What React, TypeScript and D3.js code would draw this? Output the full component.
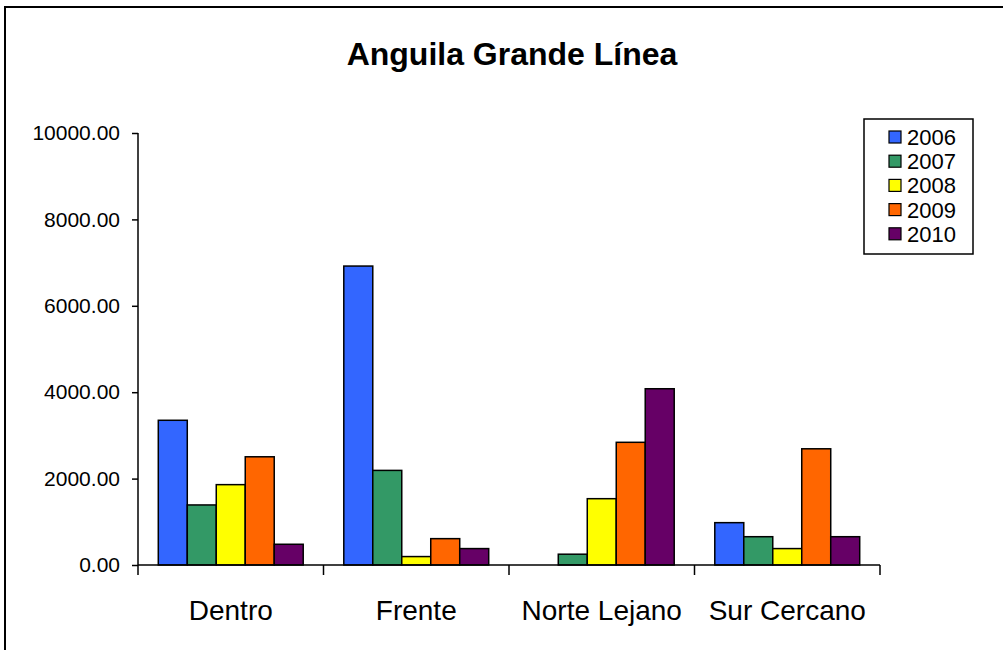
import { useEffect, useRef } from 'react';
import * as d3 from 'd3';

const categories = ['Dentro', 'Frente', 'Norte Lejano', 'Sur Cercano'];
const years = ['2006', '2007', '2008', '2009', '2010'];
const colors = ['#3366FF', '#339966', '#FFFF00', '#FF6600', '#660066'];

// values per year, one entry per category
const v2006 = [3350, 6920, 0, 980];
const v2007 = [1390, 2190, 250, 655];
const v2008 = [1860, 195, 1535, 380];
const v2009 = [2505, 610, 2840, 2690];
const v2010 = [480, 380, 4080, 655];

const yTicks = [0, 2000, 4000, 6000, 8000, 10000];

export default function App() {
  const svgRef = useRef<SVGSVGElement>(null);
  const width = 1003;
  const height = 650;

  useEffect(() => {
    if (!svgRef.current) return;
    const svg = d3.select(svgRef.current);
    svg.selectAll('*').remove();

    const series = [v2006, v2007, v2008, v2009, v2010];
    const font = 'Arial, "Liberation Sans", sans-serif';

    // outer frame
    svg
      .append('rect')
      .attr('x', 5)
      .attr('y', 7)
      .attr('width', width)
      .attr('height', height)
      .attr('fill', '#fff')
      .attr('stroke', '#000')
      .attr('stroke-width', 2);

    // title
    svg
      .append('text')
      .attr('x', 512)
      .attr('y', 65)
      .attr('text-anchor', 'middle')
      .attr('font-family', font)
      .attr('font-weight', 'bold')
      .attr('font-size', '32px')
      .text('Anguila Grande Línea');

    const left = 138;
    const right = 880;
    const top = 133;
    const bottom = 565;

    const x = d3.scaleBand().domain(categories).range([left, right]).padding(0);
    const xs = d3
      .scaleBand()
      .domain(years)
      .range([0, x.bandwidth()])
      .paddingInner(0)
      .paddingOuter(0.7);
    const y = d3.scaleLinear().domain([0, 10000]).range([bottom, top]);

    // bars
    years.forEach((yr, i) => {
      svg
        .append('g')
        .selectAll('rect')
        .data(categories.map((c, j) => ({ c, v: series[i][j] })).filter((d) => d.v > 0))
        .enter()
        .append('rect')
        .attr('x', (d) => (x(d.c) || 0) + (xs(yr) || 0))
        .attr('y', (d) => y(d.v))
        .attr('width', xs.bandwidth())
        .attr('height', (d) => bottom - y(d.v))
        .attr('fill', colors[i])
        .attr('stroke', '#000')
        .attr('stroke-width', 1.5);
    });

    // y axis
    const yAxis = svg
      .append('g')
      .attr('transform', `translate(${left},0)`)
      .call(
        d3
          .axisLeft(y)
          .tickValues(yTicks)
          .tickFormat((d) => d3.format('.2f')(d as number))
          .tickSize(6)
          .tickPadding(12)
      );
    yAxis.select('.domain').attr('stroke-width', 1.5).attr('d', `M0,${top}V${bottom}`);
    yAxis.selectAll('line').attr('stroke-width', 1.5);
    yAxis.selectAll('text').attr('font-family', font).attr('font-size', '21px').attr('fill', '#000');

    // x axis
    const xAxis = svg
      .append('g')
      .attr('transform', `translate(0,${bottom})`)
      .call(d3.axisBottom(x).tickSize(0).tickPadding(35));
    xAxis.select('.domain').attr('stroke-width', 1.5).attr('d', `M${left},0H${right}`);
    xAxis.selectAll('text').attr('font-family', font).attr('font-size', '28px').attr('fill', '#000');
    // category separator ticks
    xAxis
      .selectAll('line.sep')
      .data([...categories.map((c) => x(c) || 0), right])
      .enter()
      .append('line')
      .attr('class', 'sep')
      .attr('x1', (d) => d)
      .attr('x2', (d) => d)
      .attr('y1', 0)
      .attr('y2', 10)
      .attr('stroke', '#000')
      .attr('stroke-width', 1.5);

    // legend
    const lg = svg.append('g').attr('transform', 'translate(864,119)');
    lg.append('rect')
      .attr('width', 109)
      .attr('height', 135)
      .attr('fill', '#fff')
      .attr('stroke', '#000')
      .attr('stroke-width', 1.5);
    const rows = lg
      .selectAll('g.item')
      .data(years)
      .enter()
      .append('g')
      .attr('class', 'item')
      .attr('transform', (_d, i) => `translate(0,${18 + i * 24.2})`);
    rows
      .append('rect')
      .attr('x', 25)
      .attr('y', -6)
      .attr('width', 12)
      .attr('height', 12)
      .attr('fill', (_d, i) => colors[i])
      .attr('stroke', '#000')
      .attr('stroke-width', 1.2);
    rows
      .append('text')
      .attr('x', 43)
      .attr('y', 8)
      .attr('font-family', font)
      .attr('font-size', '22px')
      .text((d) => d);
  }, []);

  return (
    <svg
      ref={svgRef}
      width={width}
      height={height}
      style={{ position: 'absolute', left: 0, top: 0, background: '#fff' }}
    />
  );
}
